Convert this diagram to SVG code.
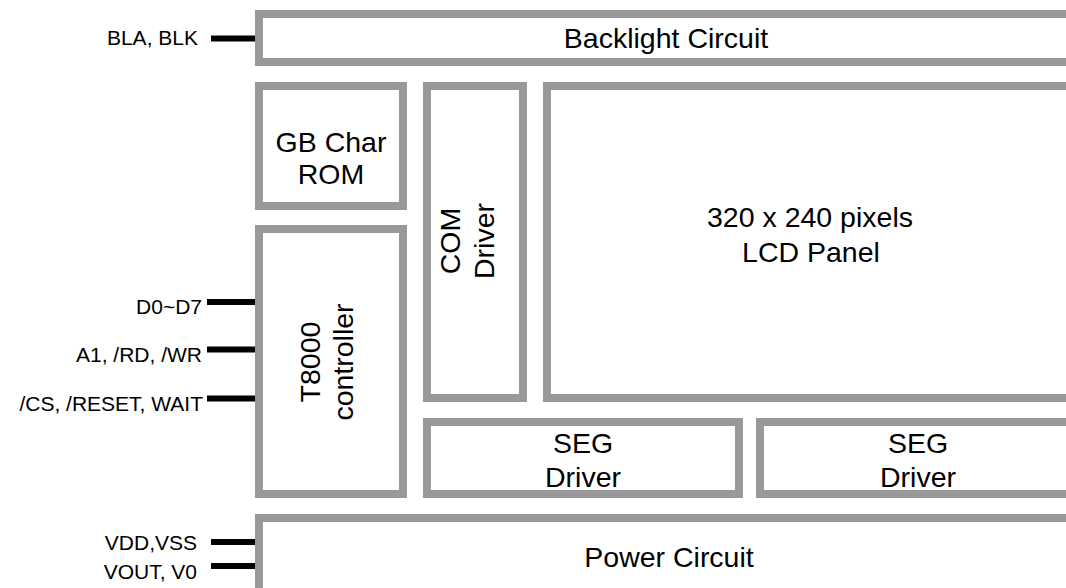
<svg xmlns="http://www.w3.org/2000/svg" width="1066" height="588" viewBox="0 0 1066 588">
<style>
.box{fill:#ffffff;stroke:#999999;stroke-width:8}
.t{font-family:"Liberation Sans",Arial,sans-serif;font-size:28.5px;fill:#000000;text-anchor:middle}
.lbl{font-family:"Liberation Sans",Arial,sans-serif;font-size:21px;fill:#000000;text-anchor:end}
.pin{stroke:#000000;stroke-width:6;fill:none}
</style>
<rect width="1066" height="588" fill="#ffffff"/>
<g id="backlight">
<rect class="box" x="259" y="14" width="900" height="48"/>
<text class="t" x="666" y="48">Backlight Circuit</text>
</g>
<g id="gbrom">
<rect class="box" x="259" y="86" width="144" height="120"/>
<text class="t" x="331" y="152">GB Char</text>
<text class="t" x="331" y="184">ROM</text>
</g>
<g id="t8000">
<rect class="box" x="259" y="229" width="144" height="265"/>
<g transform="translate(331,362) rotate(-90)">
<text class="t" x="0" y="-11">T8000</text>
<text class="t" x="0" y="22">controller</text>
</g>
</g>
<g id="com">
<rect class="box" x="427" y="86" width="96" height="312"/>
<g transform="translate(475,241) rotate(-90)">
<text class="t" x="0" y="-15">COM</text>
<text class="t" x="0" y="19">Driver</text>
</g>
</g>
<g id="lcd">
<rect class="box" x="547" y="86" width="600" height="312"/>
<text class="t" x="810" y="227">320 x 240 pixels</text>
<text class="t" x="811" y="262">LCD Panel</text>
</g>
<g id="seg1">
<rect class="box" x="427" y="422" width="312" height="72"/>
<text class="t" x="583" y="453">SEG</text>
<text class="t" x="583" y="487">Driver</text>
</g>
<g id="seg2">
<rect class="box" x="760" y="422" width="400" height="72"/>
<text class="t" x="918" y="453">SEG</text>
<text class="t" x="918" y="487">Driver</text>
</g>
<g id="power">
<rect class="box" x="259" y="518" width="900" height="200"/>
<text class="t" x="669" y="567">Power Circuit</text>
</g>
<g id="connectors">
<line class="pin" x1="211" y1="38.5" x2="255" y2="38.5"/>
<line class="pin" x1="207" y1="302" x2="255" y2="302"/>
<line class="pin" x1="207" y1="349.5" x2="255" y2="349.5"/>
<line class="pin" x1="207" y1="398.5" x2="255" y2="398.5"/>
<line class="pin" x1="211" y1="542" x2="255" y2="542"/>
<line class="pin" x1="211" y1="566" x2="255" y2="566"/>
</g>
<g id="labels">
<text class="lbl" x="198" y="45">BLA, BLK</text>
<text class="lbl" x="202" y="314">D0~D7</text>
<text class="lbl" x="202" y="361.5">A1, /RD, /WR</text>
<text class="lbl" x="203" y="410.5">/CS, /RESET, WAIT</text>
<text class="lbl" x="197" y="550">VDD,VSS</text>
<text class="lbl" x="197" y="579">VOUT, V0</text>
</g>
</svg>
